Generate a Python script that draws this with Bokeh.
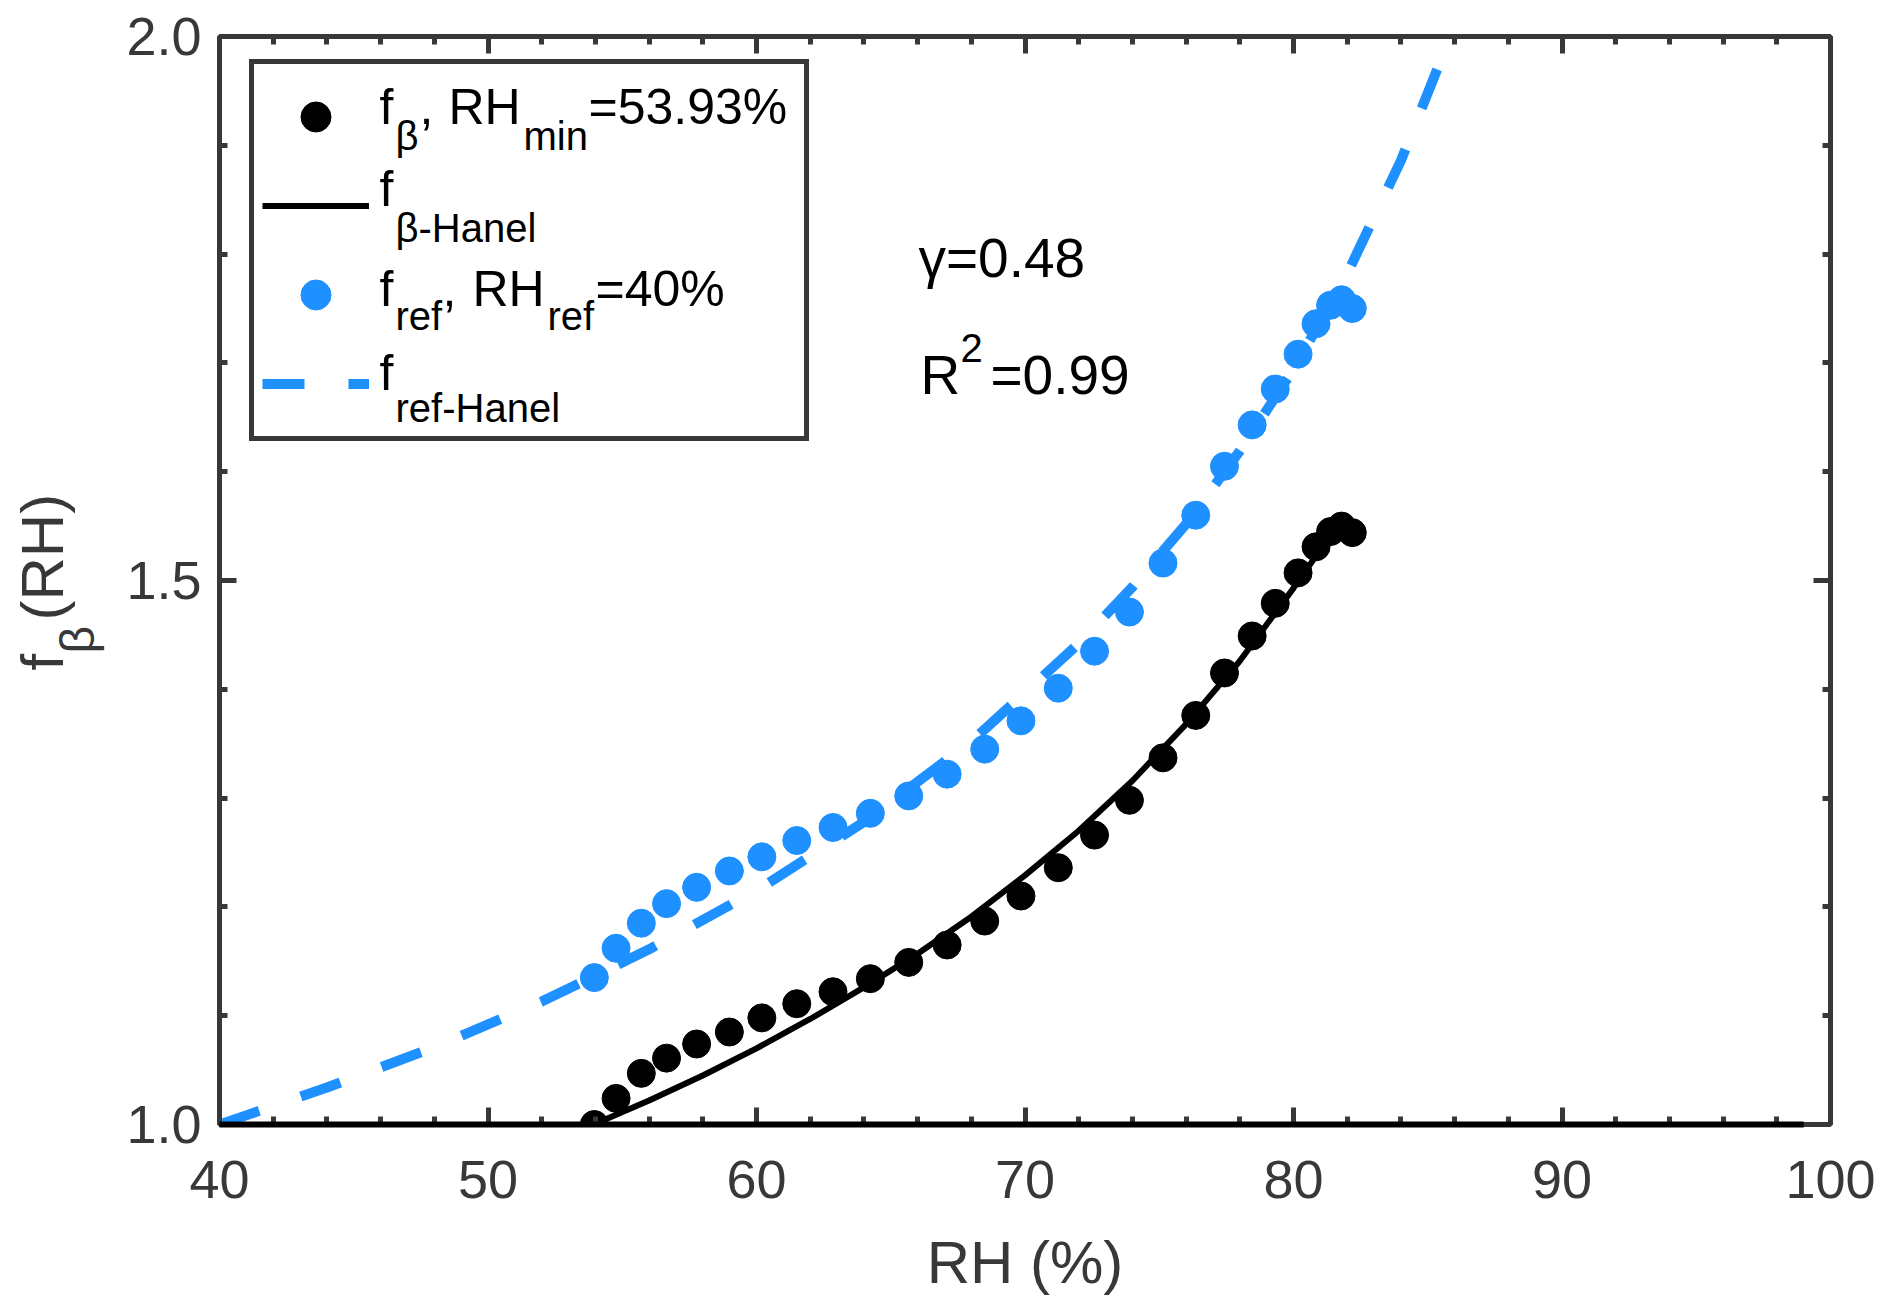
# Growth factor of aerosol backscatter versus relative humidity, with Hanel fits.
from bokeh.plotting import figure
from bokeh.models import FixedTicker, LinearAxis, Label, Legend, LegendItem, PrintfTickFormatter
from bokeh.embed import file_html
from bokeh.resources import INLINE

rh = [53.96, 54.77, 55.71, 56.65, 57.77, 58.99, 60.2, 61.5, 62.85, 64.24, 65.67, 67.1, 68.5, 69.85,
      71.24, 72.59, 73.89, 75.14, 76.36, 77.43, 78.46, 79.32, 80.17, 80.84, 81.38, 81.79, 82.19]
f_beta = [1.0, 1.024, 1.047, 1.061, 1.074, 1.085, 1.098, 1.111, 1.122, 1.134, 1.149, 1.165, 1.187, 1.21,
          1.236, 1.266, 1.298, 1.337, 1.376, 1.415, 1.449, 1.479, 1.507, 1.531, 1.545, 1.55, 1.544]
f_ref = [1.135, 1.162, 1.185, 1.203, 1.218, 1.233, 1.246, 1.261, 1.273, 1.286, 1.302, 1.322, 1.345, 1.371,
         1.401, 1.435, 1.471, 1.516, 1.56, 1.605, 1.643, 1.676, 1.708, 1.736, 1.753, 1.758, 1.75]

# Hanel curves as drawn.
hanel_beta_rh = [53.93, 56, 58, 60, 62, 64, 66, 68, 70, 72, 74, 76, 78, 80, 81.9]
hanel_beta = [1.0, 1.022, 1.045, 1.07, 1.097, 1.126, 1.157, 1.191, 1.229, 1.27, 1.316, 1.368, 1.426, 1.493, 1.56]
hanel_ref_rh = [40, 44, 48, 52, 56, 60, 64, 68, 72, 74, 76, 78, 80, 82, 84, 85.84]
hanel_ref = [1.0, 1.034, 1.071, 1.113, 1.161, 1.215, 1.278, 1.352, 1.442, 1.494, 1.552, 1.619, 1.694, 1.782, 1.886, 2.0]

# black base line along f = 1
base_rh = [40, 99]
base_f = [1.0, 1.0]

x_major = [40, 50, 60, 70, 80, 90, 100]
x_minor = [42, 44, 46, 48, 52, 54, 56, 58, 62, 64, 66, 68, 72, 74, 76, 78, 82, 84, 86, 88, 92, 94, 96, 98]
y_major = [1.0, 1.5, 2.0]
y_minor = [1.1, 1.2, 1.3, 1.4, 1.6, 1.7, 1.8, 1.9]

font = "Liberation Sans"
axis_color = "#383838"
blue = "#1E90FF"

p = figure(width=1876, height=1299, x_range=(40, 100), y_range=(1.0, 2.0),
           output_backend="svg", toolbar_location=None,
           min_border_left=219, min_border_right=46, min_border_top=36, min_border_bottom=175)
p.grid.visible = False
p.outline_line_color = axis_color
p.outline_line_width = 5
p.background_fill_color = "white"
p.border_fill_color = "white"

p.add_layout(LinearAxis(), "above")
p.add_layout(LinearAxis(), "right")

x_ticker = FixedTicker(ticks=x_major, minor_ticks=x_minor)
y_ticker = FixedTicker(ticks=y_major, minor_ticks=y_minor)


def style_axis(ax, ticker, fmt):
    ax.ticker = ticker
    ax.axis_line_color = None
    ax.major_tick_line_color = axis_color
    ax.minor_tick_line_color = axis_color
    ax.major_tick_line_width = 5
    ax.minor_tick_line_width = 5
    ax.major_tick_in = 17
    ax.major_tick_out = 0
    ax.minor_tick_in = 8
    ax.minor_tick_out = 0
    if fmt:
        ax.formatter = PrintfTickFormatter(format=fmt)
        ax.major_label_text_font = font
        ax.major_label_text_font_size = "54px"
        ax.major_label_text_color = axis_color
    else:
        ax.major_label_overrides = {t: "" for t in ticker.ticks}
        ax.major_label_text_font_size = "1px"
        ax.major_label_standoff = 0


style_axis(p.below[0], x_ticker, "%d")
style_axis(p.above[0], x_ticker, None)
style_axis(p.left[0], y_ticker, "%.1f")
style_axis(p.right[0], y_ticker, None)

p.below[0].major_label_standoff = 36
p.left[0].major_label_standoff = 18
p.below[0].axis_label = "RH (%)"
p.below[0].axis_label_text_font = font
p.below[0].axis_label_text_font_size = "60px"
p.below[0].axis_label_text_font_style = "normal"
p.below[0].axis_label_text_color = axis_color
p.below[0].axis_label_standoff = 28

# data
p.line(base_rh, base_f, line_color="black", line_width=6, level="overlay")
r_dots_b = p.scatter(rh, f_beta, size=28, color="black")
r_line_b = p.line(hanel_beta_rh, hanel_beta, line_color="black", line_width=6)
r_dots_r = p.scatter(rh, f_ref, size=28, color=blue)
r_line_r = p.line(hanel_ref_rh, hanel_ref, line_color=blue, line_width=10, line_dash="42 44")

legend = Legend(items=[LegendItem(label=" ", renderers=[r_dots_b]),
                       LegendItem(label=" ", renderers=[r_line_b]),
                       LegendItem(label=" ", renderers=[r_dots_r]),
                       LegendItem(label=" ", renderers=[r_line_r])],
                location=(30, 683), glyph_width=107, glyph_height=75,
                label_width=427, label_height=89, label_standoff=0, spacing=0,
                padding=8, margin=0, label_text_font_size="10px",
                border_line_color=axis_color, border_line_width=5, border_line_alpha=1.0,
                background_fill_alpha=0.0)
p.add_layout(legend)


def put(text, x, y, size, color="black", angle=0.0):
    # baseline at (x, y); the label is anchored near the middle of its line box
    p.add_layout(Label(x=x, y=y + round(0.38 * size), x_units="screen", y_units="screen", text=text,
                       text_font=font, text_font_size=f"{size}px", text_color=color,
                       angle=angle, text_align="left", text_baseline="alphabetic", level="overlay"))


# legend texts with subscripts
put("f", 160, 999, 50)
put("\u03b2", 176, 974, 40)
put(",", 200, 999, 50)
put("RH", 229, 999, 50)
put("min", 304, 974, 40)
put("=53.93%", 369, 999, 50)

put("f", 160, 917, 50)
put("\u03b2-Hanel", 176, 882, 40)

put("f", 160, 817, 50)
put("ref", 176, 794, 40)
put(",", 223, 817, 50)
put("RH", 253, 817, 50)
put("ref", 328, 794, 40)
put("=40%", 376, 817, 50)

put("f", 160, 733, 50)
put("ref-Hanel", 176, 702, 40)

# fit statistics
put("\u03b3=0.48", 699, 846, 55)
put("R", 701, 729, 55)
put("2", 741, 762, 40)
put("=0.99", 771, 729, 55)

# y axis label f_beta(RH), rotated, living in the left side panel
rot = 3.14159265 / 2
lab_main = Label(x=-14, y=1124 - 670, x_units="screen", y_units="screen",
                 text="f\u00a0\u00a0(RH)", text_font=font, text_font_size="60px", text_color=axis_color,
                 angle=rot, text_align="left", text_baseline="alphabetic")
lab_sub = Label(x=74, y=1124 - 653, x_units="screen", y_units="screen",
                text="\u03b2", text_font=font, text_font_size="48px", text_color=axis_color,
                angle=rot, text_align="left", text_baseline="alphabetic")
p.add_layout(lab_main, "left")
p.add_layout(lab_sub, "left")

open("out.html", "w").write(file_html(p, INLINE))
